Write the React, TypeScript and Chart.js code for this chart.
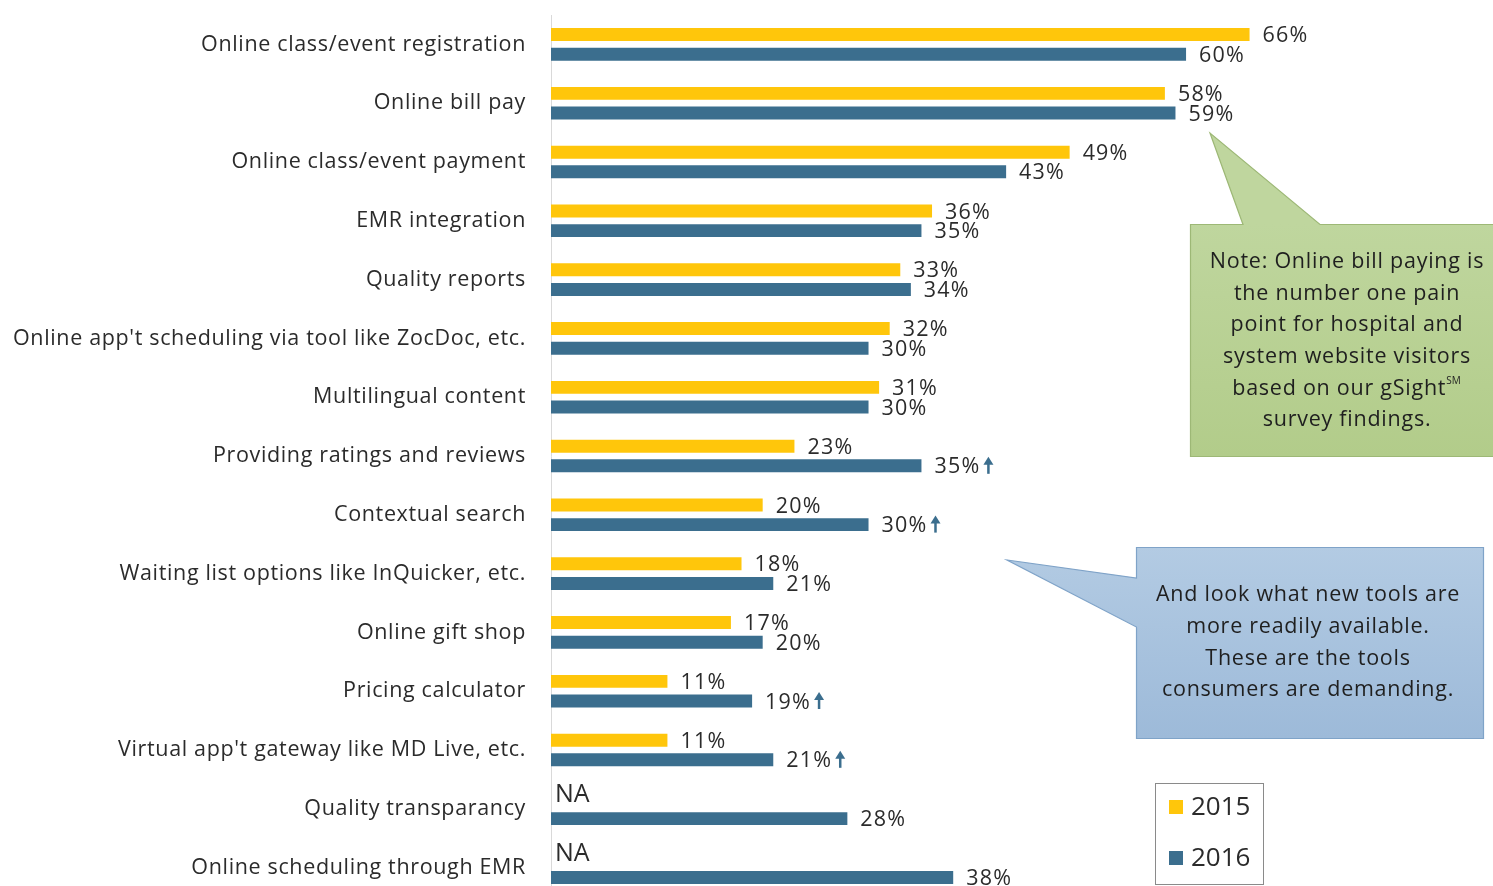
import React, { useEffect, useRef } from "react";
import { Chart, registerables } from "chart.js";

Chart.register(...registerables);

const categories = [
  "Online class/event registration",
  "Online bill pay",
  "Online class/event payment",
  "EMR integration",
  "Quality reports",
  "Online app't scheduling via tool like ZocDoc, etc.",
  "Multilingual content",
  "Providing ratings and reviews",
  "Contextual search",
  "Waiting list options like InQuicker, etc.",
  "Online gift shop",
  "Pricing calculator",
  "Virtual app't gateway like MD Live, etc.",
  "Quality transparancy",
  "Online scheduling through EMR",
];

const values2015: (number | null)[] = [66, 58, 49, 36, 33, 32, 31, 23, 20, 18, 17, 11, 11, null, null];
const values2016: (number | null)[] = [60, 59, 43, 35, 34, 30, 30, 35, 30, 21, 20, 19, 21, 28, 38];
const rising2016 = [false, false, false, false, false, false, false, true, true, false, false, true, true, false, false];

const seriesLabels = ["2015", "2016"];
const seriesColors = ["#FFC60B", "#3B6E8E"];

const noteLines = [
  "Note: Online bill paying is",
  "the number one pain",
  "point for hospital and",
  "system website visitors",
  "based on our gSight|SM",
  "survey findings.",
];
const calloutLines = [
  "And look what new tools are",
  "more readily available.",
  "These are the tools",
  "consumers are demanding.",
];

const FONT = "'Open Sans', Lato, sans-serif";
const TEXT = "#2b2b2b";

const overlayPlugin = {
  id: "overlay",
  beforeDraw(chart: any) {
    chart.ctx.letterSpacing = "0.65px";
  },
  beforeDatasetsDraw(chart: any) {
    chart.ctx.letterSpacing = "0px";
  },
  afterDatasetsDraw(chart: any) {
    const ctx = chart.ctx;
    const area = chart.chartArea;
    ctx.save();
    chart.data.datasets.forEach((ds: any, di: number) => {
      const meta = chart.getDatasetMeta(di);
      meta.data.forEach((el: any, i: number) => {
        const v = ds.data[i];
        ctx.fillStyle = TEXT;
        ctx.textAlign = "left";
        ctx.textBaseline = "middle";
        if (v === null || v === undefined) {
          ctx.letterSpacing = "0px";
          ctx.font = `25px ${FONT}`;
          ctx.fillText("NA", area.left + 4, el.y - 4);
          return;
        }
        ctx.letterSpacing = "1.2px";
        ctx.font = `21.5px ${FONT}`;
        const txt = `${v}%`;
        const tx = el.x + 13;
        ctx.fillText(txt, tx, el.y + 1.5);
        if (di === 1 && rising2016[i]) {
          const w = ctx.measureText(txt).width;
          const ax = tx + w + 8;
          const top = el.y - 9;
          const bot = el.y + 8;
          ctx.fillStyle = seriesColors[1];
          ctx.beginPath();
          ctx.moveTo(ax, top);
          ctx.lineTo(ax + 5, top + 8);
          ctx.lineTo(ax - 5, top + 8);
          ctx.closePath();
          ctx.fill();
          ctx.fillRect(ax - 1.25, top + 6, 2.5, bot - top - 6);
        }
      });
    });
    ctx.restore();
  },
  afterDraw(chart: any) {
    const ctx = chart.ctx;
    ctx.save();

    // green note with pointer
    const g = ctx.createLinearGradient(0, 224, 0, 456);
    g.addColorStop(0, "#BFD69E");
    g.addColorStop(1, "#B2CC8A");
    ctx.beginPath();
    ctx.moveTo(1190.5, 224.5);
    ctx.lineTo(1243, 224.5);
    ctx.lineTo(1210, 133);
    ctx.lineTo(1320, 224.5);
    ctx.lineTo(1500, 224.5);
    ctx.lineTo(1500, 456.5);
    ctx.lineTo(1190.5, 456.5);
    ctx.closePath();
    ctx.fillStyle = g;
    ctx.fill();
    ctx.strokeStyle = "#9DB876";
    ctx.lineWidth = 1.2;
    ctx.stroke();

    ctx.fillStyle = "#1f1f1f";
    ctx.textAlign = "left";
    ctx.textBaseline = "middle";
    noteLines.forEach((line, i) => {
      const y = 262 + i * 31.6;
      const [main, sup] = line.split("|");
      ctx.letterSpacing = "0.75px";
      ctx.font = `21.5px ${FONT}`;
      const mw = ctx.measureText(main).width;
      let sw = 0;
      ctx.letterSpacing = "0px";
      if (sup) {
        ctx.font = `10px ${FONT}`;
        sw = ctx.measureText(sup).width + 1;
      }
      const x0 = 1347 - (mw + sw) / 2;
      ctx.letterSpacing = "0.75px";
      ctx.font = `21.5px ${FONT}`;
      ctx.fillText(main, x0, y);
      ctx.letterSpacing = "0px";
      if (sup) {
        ctx.font = `10px ${FONT}`;
        ctx.fillText(sup, x0 + mw, y - 7);
      }
    });

    // blue callout with pointer
    const b = ctx.createLinearGradient(0, 547, 0, 738);
    b.addColorStop(0, "#B3CBE3");
    b.addColorStop(1, "#9DBAD9");
    ctx.beginPath();
    ctx.moveTo(1136.5, 547.5);
    ctx.lineTo(1483.5, 547.5);
    ctx.lineTo(1483.5, 738.5);
    ctx.lineTo(1136.5, 738.5);
    ctx.lineTo(1136.5, 627);
    ctx.lineTo(1007, 560);
    ctx.lineTo(1136.5, 578);
    ctx.closePath();
    ctx.fillStyle = b;
    ctx.fill();
    ctx.strokeStyle = "#7FA3C8";
    ctx.lineWidth = 1.2;
    ctx.stroke();

    ctx.fillStyle = "#1f1f1f";
    ctx.textAlign = "center";
    ctx.letterSpacing = "0.75px";
    ctx.font = `21.5px ${FONT}`;
    calloutLines.forEach((line, i) => {
      ctx.fillText(line, 1308, 595 + i * 31.7);
    });
    ctx.letterSpacing = "0px";

    // legend box
    ctx.fillStyle = "#ffffff";
    ctx.fillRect(1155, 783, 108, 101);
    ctx.strokeStyle = "#8a8a8a";
    ctx.lineWidth = 1;
    ctx.strokeRect(1155.5, 783.5, 108, 101);
    seriesLabels.forEach((lab, i) => {
      const cy = 807 + i * 51;
      ctx.fillStyle = seriesColors[i];
      ctx.fillRect(1169, cy - 7, 14, 14);
      ctx.fillStyle = TEXT;
      ctx.textAlign = "left";
      ctx.font = `26px ${FONT}`;
      ctx.fillText(lab, 1191, cy + 1);
    });

    ctx.restore();
  },
};

export default function App() {
  const ref = useRef<HTMLCanvasElement | null>(null);

  useEffect(() => {
    document.body.style.margin = "0";
    if (!ref.current) return;
    const chart = new Chart(ref.current, {
      type: "bar",
      data: {
        labels: categories,
        datasets: [
          {
            label: seriesLabels[0],
            data: values2015,
            backgroundColor: seriesColors[0],
            categoryPercentage: 0.667,
            barPercentage: 0.66,
          },
          {
            label: seriesLabels[1],
            data: values2016,
            backgroundColor: seriesColors[1],
            categoryPercentage: 0.667,
            barPercentage: 0.66,
          },
        ],
      },
      options: {
        indexAxis: "y",
        responsive: false,
        animation: false,
        layout: { autoPadding: false, padding: { top: 15, right: 0, bottom: 0, left: 0 } },
        plugins: {
          legend: { display: false },
          tooltip: { enabled: false },
        },
        scales: {
          x: { display: false, min: 0, max: 89 },
          y: {
            grid: { display: false, drawTicks: false },
            border: { display: true, color: "#d9d9d9", width: 1 },
            ticks: {
              font: { family: FONT, size: 21.5 },
              color: TEXT,
              padding: 25,
              autoSkip: false,
            },
            afterFit(scale: any) {
              scale.width = 551;
              scale.paddingTop = 0;
              scale.paddingBottom = 0;
            },
          },
        },
      },
      plugins: [overlayPlugin],
    } as any);
    return () => chart.destroy();
  }, []);

  return (
    <div
      style={{
        position: "fixed",
        left: 0,
        top: 0,
        width: 1493,
        height: 886,
        overflow: "hidden",
        background: "#ffffff",
      }}
    >
      <canvas ref={ref} width={1493} height={897} style={{ display: "block" }} />
    </div>
  );
}
